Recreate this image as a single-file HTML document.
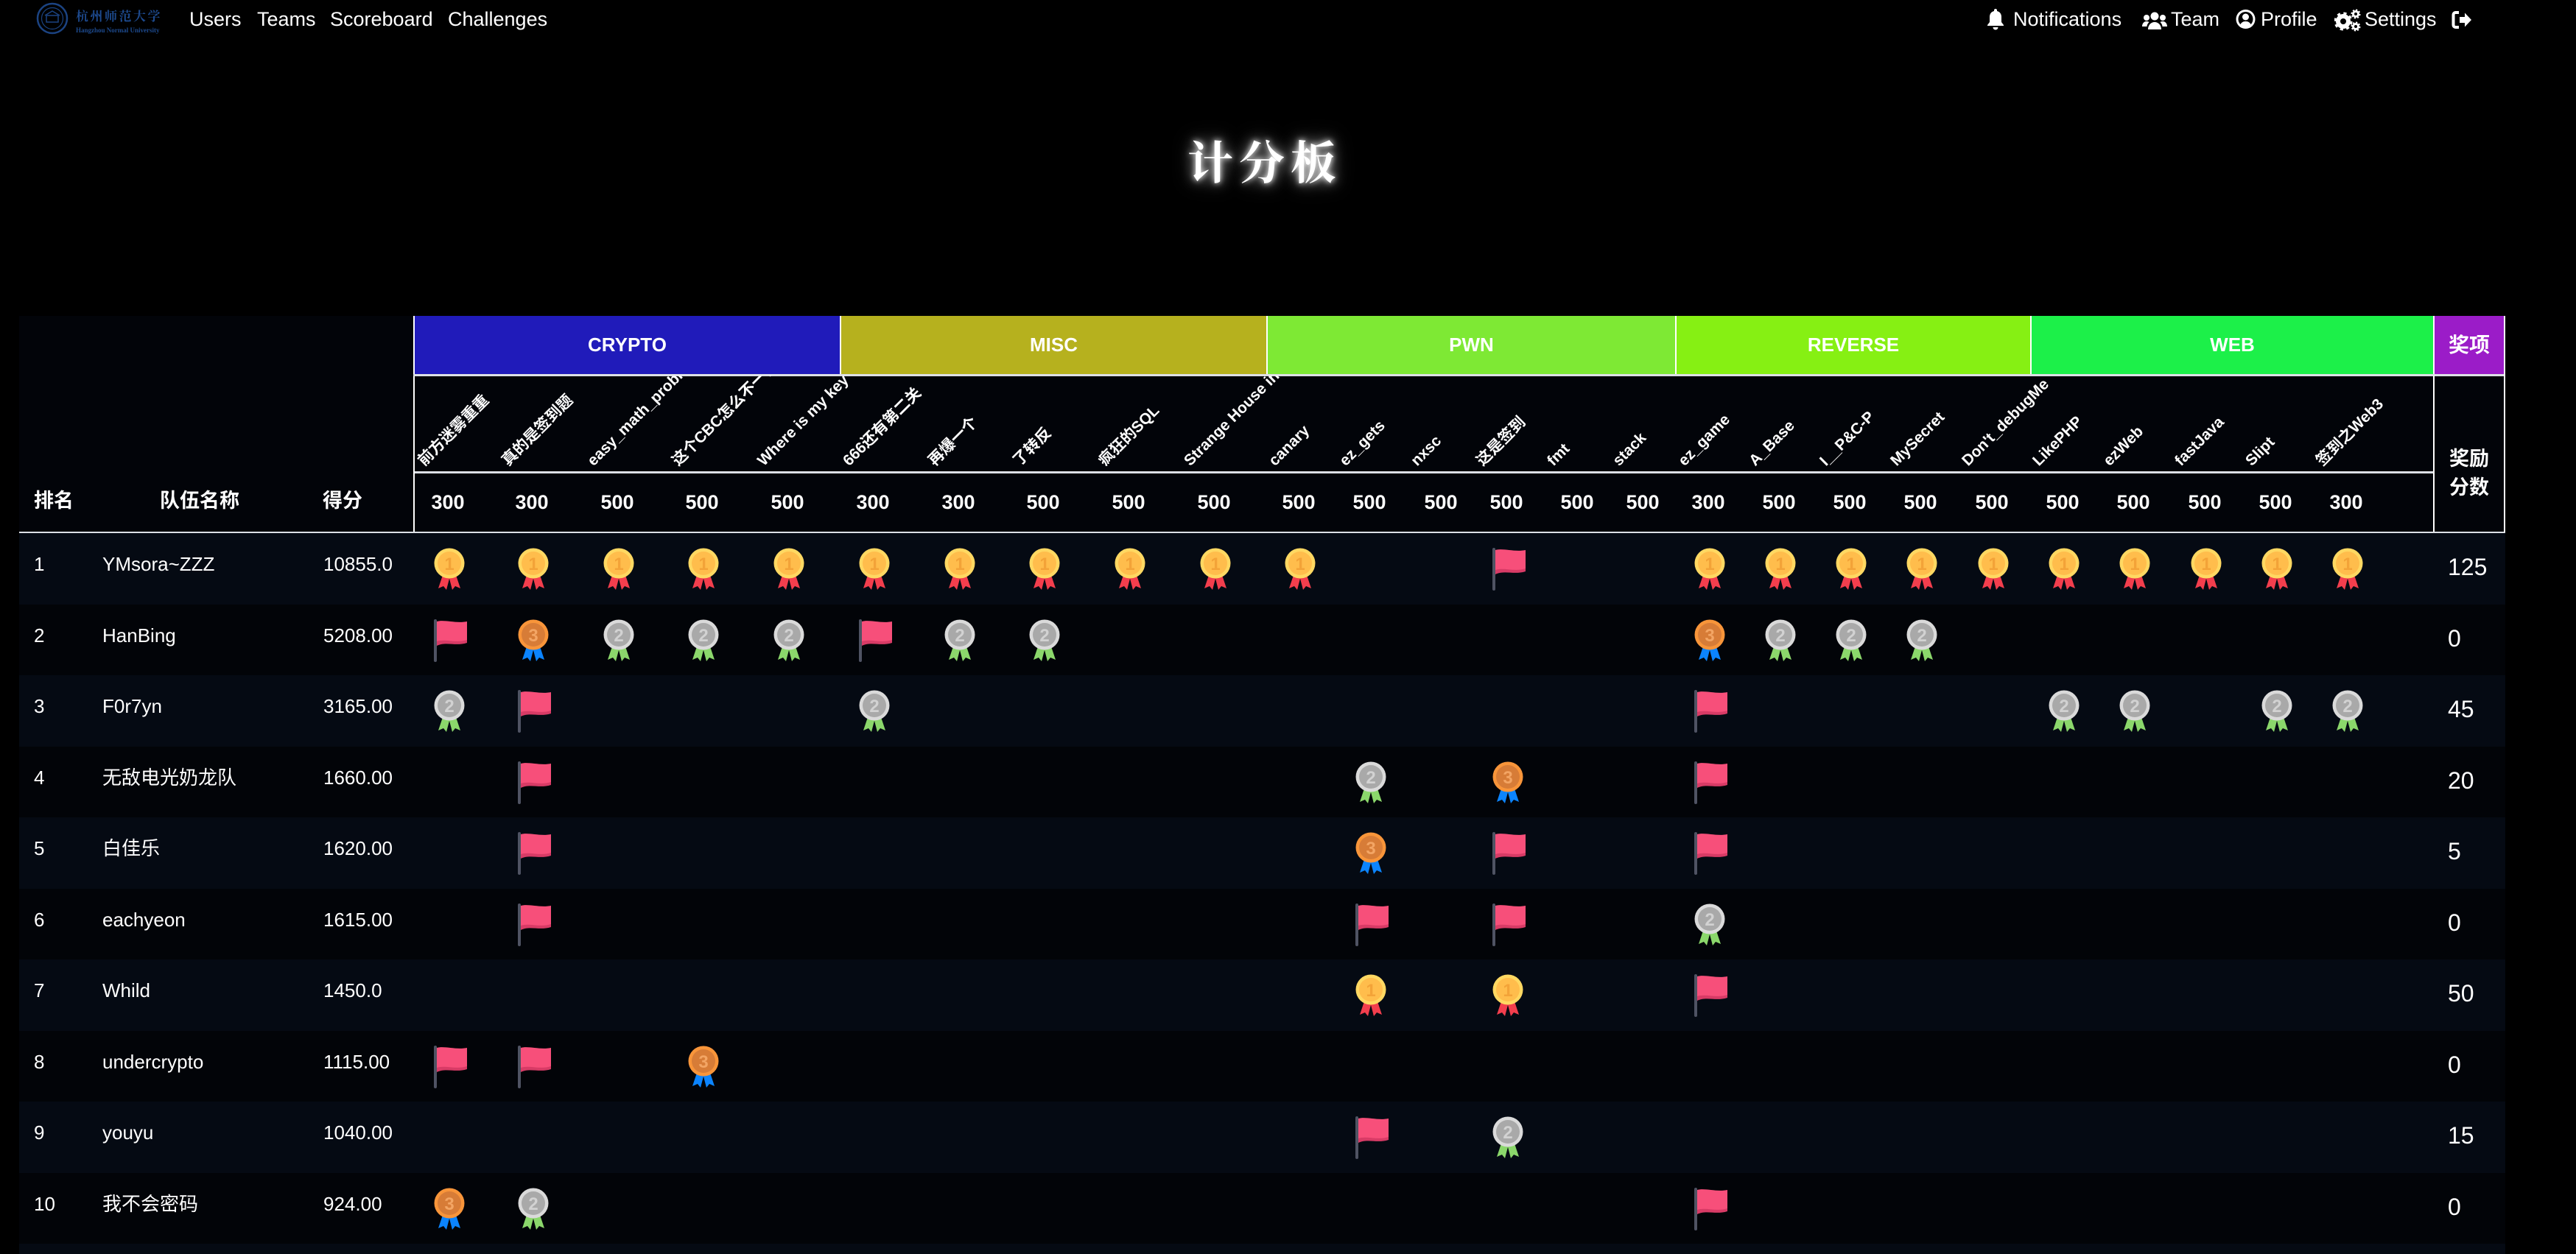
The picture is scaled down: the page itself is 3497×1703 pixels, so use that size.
<!DOCTYPE html>
<html><head><meta charset="utf-8">
<style>
*{margin:0;padding:0;box-sizing:border-box}
html,body{width:3497px;height:1703px;background:#000;overflow:hidden}
body{position:relative;font-family:"Liberation Sans","Noto Sans CJK SC",sans-serif;color:#fff}
.a{position:absolute;white-space:nowrap}
.nv{position:absolute;top:11px;font-size:27px;line-height:30px;color:#fff;white-space:nowrap}
.cat{position:absolute;top:429px;height:79px;line-height:79px;text-align:center;font-weight:bold;font-size:26px;color:#fff}
.nm{position:absolute;top:104px;height:24px;line-height:24px;font-size:21px;font-weight:bold;white-space:nowrap;transform-origin:0 100%;transform:rotate(-45deg)}
.pt{position:absolute;top:667px;width:100px;text-align:center;font-size:27px;line-height:31px;font-weight:bold}
.hd{position:absolute;top:666px;font-size:27px;line-height:28px;font-weight:bold}
.r{position:absolute;left:26px;width:3375px;height:97px}
.o{background:#050a13}
.e{background:#020408}
.t{position:absolute;top:27px;font-size:26px;line-height:30px;white-space:nowrap}
.aw{position:absolute;left:3297px;top:28px;font-size:32px;line-height:36px}
.i{position:absolute;top:20px;width:46px;height:58px}
</style></head><body>
<svg width="0" height="0" style="position:absolute">
<defs>
<symbol id="g" viewBox="0 0 46 58">
<path d="M13 34 L22 38 L17 57 L13 52 L6 55 Z" fill="#f33e4d"/>
<path d="M29 34 L20 38 L25 57 L29 52 L36 55 Z" fill="#f33e4d"/>
<circle cx="21" cy="21" r="20.5" fill="#ffd862"/>
<circle cx="21" cy="21" r="16" fill="#ffbd4c"/>
<text x="21" y="30" text-anchor="middle" font-family="Liberation Sans" font-weight="bold" font-size="24" fill="#f3a338">1</text>
</symbol>
<symbol id="s" viewBox="0 0 46 58">
<path d="M13 34 L22 38 L17 57 L13 52 L6 55 Z" fill="#8bd76b"/>
<path d="M29 34 L20 38 L25 57 L29 52 L36 55 Z" fill="#8bd76b"/>
<circle cx="21" cy="21" r="20.5" fill="#dadada"/>
<circle cx="21" cy="21" r="16" fill="#a9a9a9"/>
<text x="21" y="30" text-anchor="middle" font-family="Liberation Sans" font-weight="bold" font-size="24" fill="#d2d2d2">2</text>
</symbol>
<symbol id="b" viewBox="0 0 46 58">
<path d="M13 34 L22 38 L17 57 L13 52 L6 55 Z" fill="#0b84fe"/>
<path d="M29 34 L20 38 L25 57 L29 52 L36 55 Z" fill="#0b84fe"/>
<circle cx="21" cy="21" r="20.5" fill="#f8953a"/>
<circle cx="21" cy="21" r="16" fill="#d77c37"/>
<text x="21" y="30" text-anchor="middle" font-family="Liberation Sans" font-weight="bold" font-size="24" fill="#f3a564">3</text>
</symbol>
<symbol id="f" viewBox="0 0 46 58">
<rect x="0" y="0" width="4" height="58" rx="2" fill="#4f5363"/>
<path d="M4 3 C14 0 30 6 45 3 L45 31 C30 35 16 28 4 34 Z" fill="#f74f7a"/>
<path d="M4 30 C16 26 30 33 45 28 L45 32 C30 37 16 30 4 36 Z" fill="#d83b66"/>
</symbol>
</defs></svg>

<!-- NAV -->
<svg class="a" style="left:48px;top:3px" width="48" height="46" viewBox="0 0 48 46">
<circle cx="23" cy="22" r="20" fill="none" stroke="#1b4382" stroke-width="2.5"/>
<circle cx="23" cy="22" r="14.5" fill="none" stroke="#1b4382" stroke-width="1.2"/>
<rect x="15" y="18" width="16" height="9" fill="none" stroke="#1b4382" stroke-width="1.5"/>
<path d="M13 18 L23 12 L33 18" fill="none" stroke="#1b4382" stroke-width="1.5"/>
</svg>
<div class="a" style="left:103px;top:10px;font-family:'Noto Serif CJK SC',serif;font-weight:bold;font-size:17px;line-height:22px;letter-spacing:2.5px;color:#1d4a8e">杭州师范大学</div>
<div class="a" style="left:103px;top:36px;font-family:'Liberation Serif',serif;font-weight:bold;font-size:9px;line-height:10px;color:#1d4a8e">Hangzhou Normal University</div>

<div class="nv" style="left:257px">Users</div>
<div class="nv" style="left:349px">Teams</div>
<div class="nv" style="left:448px">Scoreboard</div>
<div class="nv" style="left:608px">Challenges</div>

<svg class="a" style="left:2697px;top:11px" width="24" height="30" viewBox="0 0 24 30"><path d="M12 1c-1.2 0-2 .8-2 2v1C6 5 4 8 4 12v7l-3 4v1h22v-1l-3-4v-7c0-4-2-7-6-8V3c0-1.2-.8-2-2-2z" fill="#fff"/><path d="M8.5 26h7a3.5 3.5 0 0 1-7 0z" fill="#fff"/></svg>
<div class="nv" style="left:2733px">Notifications</div>
<svg class="a" style="left:2908px;top:15px" width="34" height="26" viewBox="0 0 34 26" fill="#fff"><circle cx="17" cy="7" r="5.5"/><path d="M8 25c0-6 4-10 9-10s9 4 9 10z"/><circle cx="6" cy="9" r="4"/><circle cx="28" cy="9" r="4"/><path d="M0 21c0-4 2.5-7 6-7 1.5 0 2.5.4 3.5 1C7.5 17 6.5 19 6.5 21z"/><path d="M34 21c0-4-2.5-7-6-7-1.5 0-2.5.4-3.5 1 2 2 3 4 3 6z"/></svg>
<div class="nv" style="left:2947px">Team</div>
<svg class="a" style="left:3035px;top:12px" width="27" height="28" viewBox="0 0 27 28"><circle cx="13.5" cy="14" r="13" fill="#fff"/><circle cx="13.5" cy="14" r="10" fill="#000"/><circle cx="13.5" cy="11" r="4.5" fill="#fff"/><path d="M6 22c1.5-3.5 4-5 7.5-5s6 1.5 7.5 5c-2 2-4.5 3-7.5 3S8 24 6 22z" fill="#fff"/></svg>
<div class="nv" style="left:3069px">Profile</div>
<svg class="a" style="left:3169px;top:11px" width="37" height="32" viewBox="0 0 37 32"><circle cx="12" cy="18" r="7" fill="none" stroke="#fff" stroke-width="6"/><circle cx="12" cy="18" r="10.5" fill="none" stroke="#fff" stroke-width="4" stroke-dasharray="4 4.25"/><circle cx="29" cy="8" r="3.5" fill="none" stroke="#fff" stroke-width="3"/><circle cx="29" cy="8" r="5.5" fill="none" stroke="#fff" stroke-width="2" stroke-dasharray="2.2 2.1"/><circle cx="29" cy="25" r="3.5" fill="none" stroke="#fff" stroke-width="3"/><circle cx="29" cy="25" r="5.5" fill="none" stroke="#fff" stroke-width="2" stroke-dasharray="2.2 2.1"/></svg>
<div class="nv" style="left:3210px">Settings</div>
<svg class="a" style="left:3328px;top:14px" width="29" height="26" viewBox="0 0 29 26"><path d="M10 3H5.5A3 3 0 0 0 2.5 6v14a3 3 0 0 0 3 3H10" fill="none" stroke="#fff" stroke-width="4"/><path d="M11 9h7V3.5l9 9.5-9 9.5V17h-7z" fill="#fff"/></svg>

<!-- TITLE -->
<div class="a" style="left:1513px;top:182px;width:400px;text-align:center;padding-left:8px;font-family:'Noto Serif CJK SC','Noto Sans CJK SC',serif;font-weight:bold;font-size:62px;line-height:70px;letter-spacing:8px;color:#fff;text-shadow:0 0 8px #fff,0 0 18px rgba(255,255,255,.7),0 0 30px rgba(255,255,255,.35)">计分板</div>

<!-- TABLE HEADER -->
<div class="a" style="left:26px;top:429px;width:3375px;height:295px;background:#020409"></div>
<div class="a" style="left:561px;top:429px;width:2840px;height:79px;background:#fff"></div>
<div class="cat" style="left:563px;width:577px;background:#201bba">CRYPTO</div>
<div class="cat" style="left:1142px;width:577px;background:#b6b11e">MISC</div>
<div class="cat" style="left:1721px;width:553px;background:#7ee934">PWN</div>
<div class="cat" style="left:2276px;width:480px;background:#86f013">REVERSE</div>
<div class="cat" style="left:2758px;width:545px;background:#1cf049">WEB</div>
<div class="cat" style="left:3305px;width:94px;background:#9b1cc8;font-size:28px">奖项</div>

<!-- lines -->
<div class="a" style="left:561px;top:429px;width:2px;height:295px;background:#fff"></div>
<div class="a" style="left:561px;top:508px;width:2840px;height:3px;background:#dde0e5"></div>
<div class="a" style="left:563px;top:640px;width:2741px;height:3px;background:#dde0e5"></div>
<div class="a" style="left:26px;top:722px;width:3375px;height:3px;background:#dde0e5"></div>
<div class="a" style="left:3303px;top:510px;width:2px;height:212px;background:#fff"></div>
<div class="a" style="left:3399px;top:508px;width:2px;height:214px;background:#fff"></div>

<!-- names -->
<div class="a" style="left:562px;top:510px;width:2741px;height:130px;overflow:hidden">
<span class="nm" style="left:18px">前方迷雾重重</span>
<span class="nm" style="left:132px">真的是签到题</span>
<span class="nm" style="left:248px">easy_math_problem</span>
<span class="nm" style="left:363px">这个CBC怎么不一样</span>
<span class="nm" style="left:479px">Where is my key</span>
<span class="nm" style="left:595px">666还有第二关</span>
<span class="nm" style="left:711px">再爆一个</span>
<span class="nm" style="left:826px">了转反</span>
<span class="nm" style="left:942px">疯狂的SQL</span>
<span class="nm" style="left:1058px">Strange House in abyss</span>
<span class="nm" style="left:1173px">canary</span>
<span class="nm" style="left:1269px">ez_gets</span>
<span class="nm" style="left:1366px">nxsc</span>
<span class="nm" style="left:1455px">这是签到</span>
<span class="nm" style="left:1551px">fmt</span>
<span class="nm" style="left:1640px">stack</span>
<span class="nm" style="left:1729px">ez_game</span>
<span class="nm" style="left:1825px">A_Base</span>
<span class="nm" style="left:1921px">I__P&amp;C-P</span>
<span class="nm" style="left:2017px">MySecret</span>
<span class="nm" style="left:2114px">Don't_debugMe</span>
<span class="nm" style="left:2210px">LikePHP</span>
<span class="nm" style="left:2306px">ezWeb</span>
<span class="nm" style="left:2403px">fastJava</span>
<span class="nm" style="left:2499px">Slipt</span>
<span class="nm" style="left:2595px">签到之Web3</span>
</div>

<!-- points -->
<div class="pt" style="left:558px">300</div>
<div class="pt" style="left:672px">300</div>
<div class="pt" style="left:788px">500</div>
<div class="pt" style="left:903px">500</div>
<div class="pt" style="left:1019px">500</div>
<div class="pt" style="left:1135px">300</div>
<div class="pt" style="left:1251px">300</div>
<div class="pt" style="left:1366px">500</div>
<div class="pt" style="left:1482px">500</div>
<div class="pt" style="left:1598px">500</div>
<div class="pt" style="left:1713px">500</div>
<div class="pt" style="left:1809px">500</div>
<div class="pt" style="left:1906px">500</div>
<div class="pt" style="left:1995px">500</div>
<div class="pt" style="left:2091px">500</div>
<div class="pt" style="left:2180px">500</div>
<div class="pt" style="left:2269px">300</div>
<div class="pt" style="left:2365px">500</div>
<div class="pt" style="left:2461px">500</div>
<div class="pt" style="left:2557px">500</div>
<div class="pt" style="left:2654px">500</div>
<div class="pt" style="left:2750px">500</div>
<div class="pt" style="left:2846px">500</div>
<div class="pt" style="left:2943px">500</div>
<div class="pt" style="left:3039px">500</div>
<div class="pt" style="left:3135px">300</div>

<div class="hd" style="left:46px">排名</div>
<div class="hd" style="left:217px">队伍名称</div>
<div class="hd" style="left:438px">得分</div>
<div class="a" style="left:3305px;top:604px;width:94px;text-align:center;font-size:27px;line-height:39px;font-weight:bold;white-space:normal">奖励<br>分数</div>

<!-- ROWS -->
<div class="r o" style="top:724px">
<span class="t" style="left:20px">1</span><span class="t" style="left:113px">YMsora~ZZZ</span><span class="t" style="left:413px">10855.0</span>
<svg class="i" style="left:563px"><use href="#g"/></svg>
<svg class="i" style="left:677px"><use href="#g"/></svg>
<svg class="i" style="left:793px"><use href="#g"/></svg>
<svg class="i" style="left:908px"><use href="#g"/></svg>
<svg class="i" style="left:1024px"><use href="#g"/></svg>
<svg class="i" style="left:1140px"><use href="#g"/></svg>
<svg class="i" style="left:1256px"><use href="#g"/></svg>
<svg class="i" style="left:1371px"><use href="#g"/></svg>
<svg class="i" style="left:1487px"><use href="#g"/></svg>
<svg class="i" style="left:1603px"><use href="#g"/></svg>
<svg class="i" style="left:1718px"><use href="#g"/></svg>
<svg class="i" style="left:2000px"><use href="#f"/></svg>
<svg class="i" style="left:2274px"><use href="#g"/></svg>
<svg class="i" style="left:2370px"><use href="#g"/></svg>
<svg class="i" style="left:2466px"><use href="#g"/></svg>
<svg class="i" style="left:2562px"><use href="#g"/></svg>
<svg class="i" style="left:2659px"><use href="#g"/></svg>
<svg class="i" style="left:2755px"><use href="#g"/></svg>
<svg class="i" style="left:2851px"><use href="#g"/></svg>
<svg class="i" style="left:2948px"><use href="#g"/></svg>
<svg class="i" style="left:3044px"><use href="#g"/></svg>
<svg class="i" style="left:3140px"><use href="#g"/></svg>
<span class="aw">125</span>
</div>

<div class="r e" style="top:820.5px">
<span class="t" style="left:20px">2</span><span class="t" style="left:113px">HanBing</span><span class="t" style="left:413px">5208.00</span>
<svg class="i" style="left:563px"><use href="#f"/></svg>
<svg class="i" style="left:677px"><use href="#b"/></svg>
<svg class="i" style="left:793px"><use href="#s"/></svg>
<svg class="i" style="left:908px"><use href="#s"/></svg>
<svg class="i" style="left:1024px"><use href="#s"/></svg>
<svg class="i" style="left:1140px"><use href="#f"/></svg>
<svg class="i" style="left:1256px"><use href="#s"/></svg>
<svg class="i" style="left:1371px"><use href="#s"/></svg>
<svg class="i" style="left:2274px"><use href="#b"/></svg>
<svg class="i" style="left:2370px"><use href="#s"/></svg>
<svg class="i" style="left:2466px"><use href="#s"/></svg>
<svg class="i" style="left:2562px"><use href="#s"/></svg>
<span class="aw">0</span>
</div>

<div class="r o" style="top:917px">
<span class="t" style="left:20px">3</span><span class="t" style="left:113px">F0r7yn</span><span class="t" style="left:413px">3165.00</span>
<svg class="i" style="left:563px"><use href="#s"/></svg>
<svg class="i" style="left:677px"><use href="#f"/></svg>
<svg class="i" style="left:1140px"><use href="#s"/></svg>
<svg class="i" style="left:2274px"><use href="#f"/></svg>
<svg class="i" style="left:2755px"><use href="#s"/></svg>
<svg class="i" style="left:2851px"><use href="#s"/></svg>
<svg class="i" style="left:3044px"><use href="#s"/></svg>
<svg class="i" style="left:3140px"><use href="#s"/></svg>
<span class="aw">45</span>
</div>

<div class="r e" style="top:1013.5px">
<span class="t" style="left:20px">4</span><span class="t" style="left:113px">无敌电光奶龙队</span><span class="t" style="left:413px">1660.00</span>
<svg class="i" style="left:677px"><use href="#f"/></svg>
<svg class="i" style="left:1814px"><use href="#s"/></svg>
<svg class="i" style="left:2000px"><use href="#b"/></svg>
<svg class="i" style="left:2274px"><use href="#f"/></svg>
<span class="aw">20</span>
</div>

<div class="r o" style="top:1110px">
<span class="t" style="left:20px">5</span><span class="t" style="left:113px">白佳乐</span><span class="t" style="left:413px">1620.00</span>
<svg class="i" style="left:677px"><use href="#f"/></svg>
<svg class="i" style="left:1814px"><use href="#b"/></svg>
<svg class="i" style="left:2000px"><use href="#f"/></svg>
<svg class="i" style="left:2274px"><use href="#f"/></svg>
<span class="aw">5</span>
</div>

<div class="r e" style="top:1206.5px">
<span class="t" style="left:20px">6</span><span class="t" style="left:113px">eachyeon</span><span class="t" style="left:413px">1615.00</span>
<svg class="i" style="left:677px"><use href="#f"/></svg>
<svg class="i" style="left:1814px"><use href="#f"/></svg>
<svg class="i" style="left:2000px"><use href="#f"/></svg>
<svg class="i" style="left:2274px"><use href="#s"/></svg>
<span class="aw">0</span>
</div>

<div class="r o" style="top:1303px">
<span class="t" style="left:20px">7</span><span class="t" style="left:113px">Whild</span><span class="t" style="left:413px">1450.0</span>
<svg class="i" style="left:1814px"><use href="#g"/></svg>
<svg class="i" style="left:2000px"><use href="#g"/></svg>
<svg class="i" style="left:2274px"><use href="#f"/></svg>
<span class="aw">50</span>
</div>

<div class="r e" style="top:1399.5px">
<span class="t" style="left:20px">8</span><span class="t" style="left:113px">undercrypto</span><span class="t" style="left:413px">1115.00</span>
<svg class="i" style="left:563px"><use href="#f"/></svg>
<svg class="i" style="left:677px"><use href="#f"/></svg>
<svg class="i" style="left:908px"><use href="#b"/></svg>
<span class="aw">0</span>
</div>

<div class="r o" style="top:1496px">
<span class="t" style="left:20px">9</span><span class="t" style="left:113px">youyu</span><span class="t" style="left:413px">1040.00</span>
<svg class="i" style="left:1814px"><use href="#f"/></svg>
<svg class="i" style="left:2000px"><use href="#s"/></svg>
<span class="aw">15</span>
</div>

<div class="r e" style="top:1592.5px">
<span class="t" style="left:20px">10</span><span class="t" style="left:113px">我不会密码</span><span class="t" style="left:413px">924.00</span>
<svg class="i" style="left:563px"><use href="#b"/></svg>
<svg class="i" style="left:677px"><use href="#s"/></svg>
<svg class="i" style="left:2274px"><use href="#f"/></svg>
<span class="aw">0</span>
</div>

<div class="r o" style="top:1689px"></div>
</body></html>
